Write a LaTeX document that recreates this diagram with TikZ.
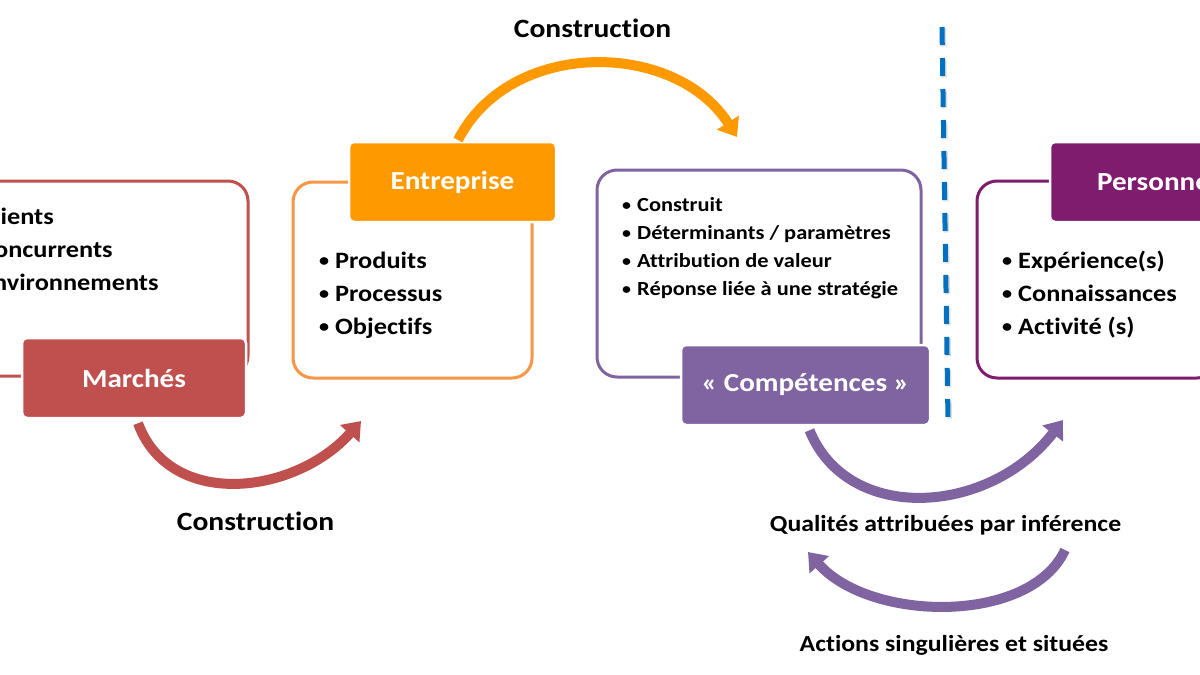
\documentclass[tikz,border=0pt]{standalone}
\usepackage{fontspec}
\setmainfont{Carlito}[FakeStretch=1.12, Ligatures=NoCommon]
\usetikzlibrary{arrows.meta}
\definecolor{cred}{HTML}{C0504D}
\definecolor{corange}{HTML}{FF9900}
\definecolor{corline}{HTML}{F79646}
\definecolor{cpurple}{HTML}{8064A2}
\definecolor{cmagenta}{HTML}{7F1C6E}
\definecolor{cblue}{HTML}{0070C0}
\tikzset{
  outbox/.style={draw, line width=3pt, rounded corners=20pt, fill=white, inner sep=0pt},
  titlebox/.style={draw=white, line width=2.5pt, rounded corners=5pt, inner sep=0pt,
    minimum height=80pt, text=white, font=\bfseries\fontsize{26}{30}\selectfont},
  itm/.style={anchor=base west, inner sep=0pt, font=\bfseries\fontsize{23.5}{28}\selectfont},
  itms/.style={anchor=base west, inner sep=0pt, font=\bfseries\fontsize{20}{24}\selectfont},
  lbl/.style={anchor=base, inner sep=0pt, font=\bfseries\fontsize{26.4}{30}\selectfont},
  lbls/.style={anchor=base, inner sep=0pt, font=\bfseries\fontsize{23}{28}\selectfont},
  bigarrow/.style={line width=10pt, -{Triangle[width=25pt,length=17pt]}},
}
\newcommand{\bul}{\makebox[16pt][l]{\raisebox{1.2pt}{\fontsize{18}{18}\selectfont •}}}
\newcommand{\buls}{\makebox[15pt][l]{\raisebox{1pt}{\fontsize{16}{16}\selectfont •}}}
\begin{document}
\begin{tikzpicture}[x=1pt,y=-1pt]
\useasboundingbox (0,0) rectangle (1200,675);
\begin{scope}
\clip (0,0) rectangle (1200,675);
\fill[white] (0,0) rectangle (1200,675);
% outline boxes
\node[outbox, draw=cred, minimum width=310pt, minimum height=195pt] (mbox) at (93,278.5) {};
\node[outbox, draw=corline, minimum width=239pt, minimum height=196pt] (ebox) at (412.5,280) {};
\node[outbox, draw=cpurple, minimum width=324pt, minimum height=207pt] (cbox) at (759,273.5) {};
\node[outbox, draw=cmagenta, minimum width=240pt, minimum height=197pt] (pbox) at (1097,279.5) {};
% title boxes
\node[titlebox, fill=cred, minimum width=224pt] (marches) at (134,378) {Marchés};
\node[titlebox, fill=corange, minimum width=207pt] (entreprise) at (452.5,182) {Entreprise};
\node[titlebox, fill=cpurple, minimum width=249pt] (competences) at (805.5,385) {« Compétences »};
\node[titlebox, fill=cmagenta, minimum width=207pt] (personne) at (1153.5,182) {Personne};
% items
\node[itm] (m1) at (-36,224) {\bul Clients};
\node[itm] (m2) at (-36,257) {\bul Concurrents};
\node[itm] (m3) at (-36,290) {\bul Environnements};
\node[itm] (e1) at (319,268) {\bul Produits};
\node[itm] (e2) at (319,301) {\bul Processus};
\node[itm] (e3) at (319,334) {\bul Objectifs};
\node[itms] (c1) at (622,211) {\buls Construit};
\node[itms] (c2) at (622,239) {\buls Déterminants / paramètres};
\node[itms] (c3) at (622,267) {\buls Attribution de valeur};
\node[itms] (c4) at (622,295) {\buls Réponse liée à une stratégie};
\node[itm] (p1) at (1002,268) {\bul Expérience(s)};
\node[itm] (p2) at (1002,301) {\bul Connaissances};
\node[itm] (p3) at (1002,334) {\bul Activité (s)};
% dashed separator
\coordinate (d0) at (942,27);
\coordinate (d1) at (948,420);
\draw[black!25, line width=5pt, dash pattern=on 18pt off 13pt, opacity=0.5] ([shift={(1.5,1.5)}]d0) -- ([shift={(1.5,1.5)}]d1);
\draw[cblue, line width=5pt, dash pattern=on 18pt off 13pt] (d0) -- (d1);
% arrows
\coordinate (r0) at ([shift={(4,4)}]marches.south);
\coordinate (r1) at (361,421);
\draw[bigarrow, cred] (r0) .. controls (170,510) and (295,495) .. (r1);
\coordinate (o0) at (458,140);
\coordinate (o1) at (737,137);
\draw[bigarrow, corange] (o0) .. controls (510,38) and (675,40) .. (o1);
\coordinate (q0) at ([shift={(4,4)}]competences.south);
\coordinate (q1) at (1063,420);
\draw[bigarrow, cpurple] (q0) .. controls (848,525) and (990,515) .. (q1);
\coordinate (a0) at (1065,550);
\coordinate (a1) at (808,552);
\draw[bigarrow, cpurple] (a0) .. controls (1030,625) and (870,622) .. (a1);
% labels
\node[lbl] (lc1) at (592.5,37) {Construction};
\node[lbl] (lc2) at (255.5,530) {Construction};
\node[lbls] (lq) at (945.5,531) {Qualités attribuées par inférence};
\node[lbls] (la) at (954,651) {Actions singulières et situées};
\end{scope}
\end{tikzpicture}
\end{document}
